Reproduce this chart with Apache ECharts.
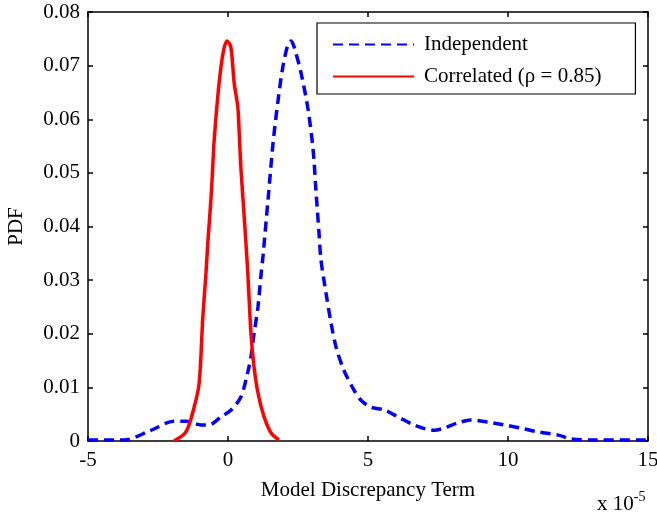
<!DOCTYPE html>
<html><head><meta charset="utf-8">
<script src="https://cdn.jsdelivr.net/npm/echarts@6/dist/echarts.min.js"></script>
<style>html,body{margin:0;padding:0;background:#fff}#c{width:657px;height:512px}</style>
</head><body><div id="c"></div>
<script>
// x in units of 1e-5
const indepX = [-5,-3.7,-2.75,-1.93,-1.5,-0.96,-0.68,-0.25,0.11,0.46,0.7,0.82,0.93,1.07,1.18,1.25,1.43,1.61,1.79,1.96,2.14,2.25,2.36,2.61,2.86,3.04,3.14,3.25,3.32,3.5,3.68,3.86,4.14,4.5,4.75,5.1,5.57,6.07,6.64,7.36,7.71,8.21,8.68,9.29,9.86,10.46,11.07,11.8,12.25,12.96,15];
const indepY = [0.0002,0.0002,0.002,0.0037,0.0037,0.003,0.003,0.0045,0.0058,0.0082,0.0127,0.0157,0.02,0.025,0.031,0.0345,0.045,0.0556,0.0636,0.0698,0.0739,0.0746,0.0735,0.0686,0.0618,0.0543,0.0468,0.0388,0.0338,0.0276,0.022,0.0175,0.0132,0.0095,0.0076,0.0063,0.0058,0.0045,0.003,0.002,0.0024,0.0034,0.0039,0.0035,0.003,0.0024,0.0017,0.0011,0.0004,0.0002,0.0002];
const corrX = [-1.93,-1.5,-1.21,-1.03,-0.9,-0.79,-0.72,-0.61,-0.55,-0.5,-0.37,-0.25,-0.15,-0.04,0.1,0.22,0.35,0.4,0.46,0.57,0.7,0.82,0.93,1.07,1.29,1.54,1.82];
const corrY = [0,0.0017,0.0063,0.0108,0.023,0.031,0.037,0.045,0.0506,0.0556,0.064,0.0698,0.073,0.0746,0.0735,0.0668,0.0623,0.0575,0.051,0.0425,0.032,0.0201,0.0138,0.009,0.0045,0.0015,0.0002];
const seriesNames = ['Independent','Correlated (\u03C1 = 0.85)'];
const xTicks = {min:-5, max:15, interval:5};
const yTicks = {min:0, max:0.08, interval:0.01};

const font = 'Liberation Serif';
const zip = (a,b)=>a.map((v,i)=>[v,b[i]]);
const axLine = {show:true, onZero:false, lineStyle:{color:'#000', width:1.5}};
const tick = {show:true, inside:true, length:5, lineStyle:{color:'#000', width:1.5}};
const chart = echarts.init(document.getElementById('c'), null, {renderer:'canvas'});
chart.setOption({
  animation:false,
  backgroundColor:'#fff',
  grid:{left:88, right:9, top:12, bottom:71, containLabel:false, outerBoundsMode:'none'},
  xAxis:[
    {type:'value', min:xTicks.min, max:xTicks.max, interval:xTicks.interval, position:'bottom',
     axisLine:axLine, axisTick:tick, splitLine:{show:false},
     axisLabel:{color:'#000', fontFamily:font, fontSize:21, margin:9, formatter:v=>String(v)},
     name:'Model Discrepancy Term', nameLocation:'middle', nameGap:39,
     nameTextStyle:{color:'#000', fontFamily:font, fontSize:21}},
    {type:'value', min:xTicks.min, max:xTicks.max, interval:xTicks.interval, position:'top',
     axisLine:axLine, axisTick:tick, axisLabel:{show:false}, splitLine:{show:false}}
  ],
  yAxis:[
    {type:'value', min:yTicks.min, max:yTicks.max, interval:yTicks.interval, position:'left',
     axisLine:axLine, axisTick:tick, splitLine:{show:false},
     axisLabel:{color:'#000', fontFamily:font, fontSize:21, margin:8, formatter:v=>v===0?'0':v.toFixed(2)},
     name:'PDF', nameLocation:'middle', nameGap:61, nameRotate:90,
     nameTextStyle:{color:'#000', fontFamily:font, fontSize:21}},
    {type:'value', min:yTicks.min, max:yTicks.max, interval:yTicks.interval, position:'right',
     axisLine:axLine, axisTick:tick, axisLabel:{show:false}, splitLine:{show:false}}
  ],
  legend:{
    orient:'vertical', left:317, top:23,
    padding:[11,34,7,15], itemGap:11, itemWidth:81, itemHeight:14,
    borderColor:'#000', borderWidth:1.2, backgroundColor:'#fff',
    itemStyle:{opacity:0},
    textStyle:{color:'#000', fontFamily:font, fontSize:21, padding:[0,0,0,5]},
    data:seriesNames
  },
  graphic:[
    {type:'text', left:597, top:490, style:{text:'x 10{s|-5}', fontFamily:font, fontSize:21, fill:'#000',
      rich:{s:{fontFamily:font, fontSize:14, verticalAlign:'top', padding:[0,0,14,0]}}}}
  ],
  series:[
    {name:seriesNames[0], type:'line', data:zip(indepX,indepY), symbol:'none', smooth:0.3,
     lineStyle:{color:'#0000ff', width:3.5, type:[10,6]}, itemStyle:{color:'#0000ff'}},
    {name:seriesNames[1], type:'line', data:zip(corrX,corrY), symbol:'none', smooth:0.3,
     lineStyle:{color:'#ff0000', width:3.5, type:'solid'}, itemStyle:{color:'#ff0000'}}
  ]
});
</script></body></html>
